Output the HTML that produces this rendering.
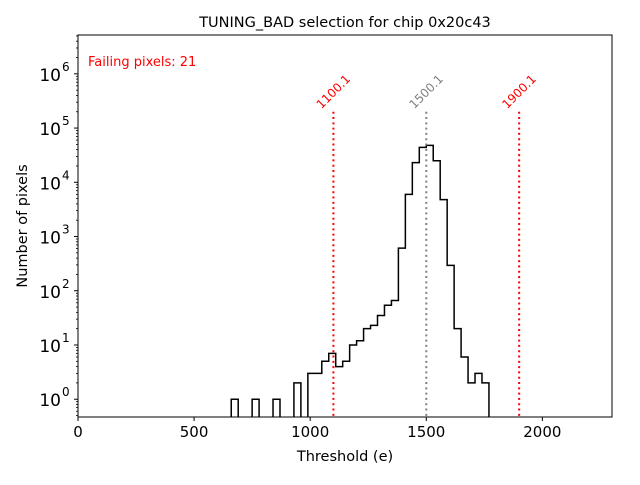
<!DOCTYPE html>
<html><head><meta charset="utf-8"><style>
body{margin:0;background:#fff}
svg text{font-family:"DejaVu Sans","Liberation Sans",sans-serif}
</style></head><body>
<svg id="chart" width="640" height="480" xmlns="http://www.w3.org/2000/svg">
<rect width="640" height="480" fill="#fff"/>
<g id="plot"></g>
</svg>
<script>
const binStart = 660;
const binWidth = 30;
const counts = [1,0,0,1,0,0,1,0,0,2,0,3,3,5,7,4,5,10,12,20,23,35,54,66,610,6000,23000,44000,48000,25000,4800,293,20,6,2,3,2];
const xTicks = [0,500,1000,1500,2000];
const yTickExps = [0,1,2,3,4,5,6];
const cutLines = [1100.1,1500.1,1900.1];
const cutColors = ['red','gray','red'];

const L=78,R=612,T=35,B=417;
const xMin=0,xMax=2300;
const yMinLog=Math.log10(0.47), yMaxLog=Math.log10(5.2e6);
const X=v=>L+(v-xMin)/(xMax-xMin)*(R-L);
const Y=v=>B-(Math.log10(v)-yMinLog)/(yMaxLog-yMinLog)*(B-T);
const NS='http://www.w3.org/2000/svg';
const g=document.getElementById('plot');
function mk(tag,attrs,txt){const e=document.createElementNS(NS,tag);for(const k in attrs)e.setAttribute(k,attrs[k]);if(txt!==undefined)e.textContent=txt;g.appendChild(e);return e;}

// histogram step path, broken at empty bins
let d='';
let open=false;
counts.forEach((c,i)=>{
  const x0=X(binStart+i*binWidth), x1=X(binStart+(i+1)*binWidth);
  if(c>0){
    const y=Y(c);
    if(!open){d+=`M${x0},${B}`;open=true;}
    d+=`L${x0},${y}L${x1},${y}`;
  } else if(open){
    d+=`L${x0},${B}`;open=false;
  }
});
if(open)d+=`L${X(binStart+counts.length*binWidth)},${B}`;
const hist=mk('path',{d:d,fill:'none',stroke:'#000','stroke-width':1.5});



// cut lines
cutLines.forEach((v,i)=>{
  const x=X(v);
  const ln=mk('line',{x1:x,x2:x,y1:Y(2e5),y2:B,stroke:cutColors[i],'stroke-width':2,'stroke-dasharray':'2,3.3'});
  
  
  const cy=Y(2e5)-20;
  const t=mk('text',{x:x,y:cy+4,fill:cutColors[i],'font-size':12,transform:`rotate(-45 ${x} ${cy})`,'text-anchor':'middle'},v.toFixed(1));
  
  
});

// axes frame
const fr=mk('rect',{x:L,y:T,width:R-L,height:B-T,fill:'none',stroke:'#000','stroke-width':1});



// x ticks
xTicks.forEach(v=>{
  const x=X(v);
  mk('line',{x1:x,x2:x,y1:B,y2:B+4,stroke:'#000'});
  const t=mk('text',{x:x,y:B+20,'font-size':15,'text-anchor':'middle'},String(v));
  
  
});
// y ticks major + minor
yTickExps.forEach(e=>{
  const y=Y(Math.pow(10,e));
  mk('line',{x1:L-4,x2:L,y1:y,y2:y,stroke:'#000'});
  const t=mk('text',{x:L-17,y:y+7,'font-size':17,'text-anchor':'end'},'10');
  
  
  mk('text',{x:L-16,y:y-3,'font-size':12,'text-anchor':'start'},String(e));
});
for(let e=-1;e<=6;e++)for(let m=2;m<=9;m++){
  const v=m*Math.pow(10,e);
  if(v<0.47||v>5.2e6)continue;
  const y=Y(v);
  mk('line',{x1:L-2,x2:L,y1:y,y2:y,stroke:'#000','stroke-width':0.8});
}

const ti=mk('text',{x:(L+R)/2,y:27,'font-size':14.5,'text-anchor':'middle'},'TUNING_BAD selection for chip 0x20c43');


const xl=mk('text',{x:(L+R)/2,y:461,'font-size':14.5,'text-anchor':'middle'},'Threshold (e)');


const yl=mk('text',{x:27,y:(T+B)/2,'font-size':14.5,'text-anchor':'middle',transform:`rotate(-90 27 ${(T+B)/2})`},'Number of pixels');


const fp=mk('text',{x:88,y:66,'font-size':13,fill:'red'},'Failing pixels: 21');


</script>
</body></html>
